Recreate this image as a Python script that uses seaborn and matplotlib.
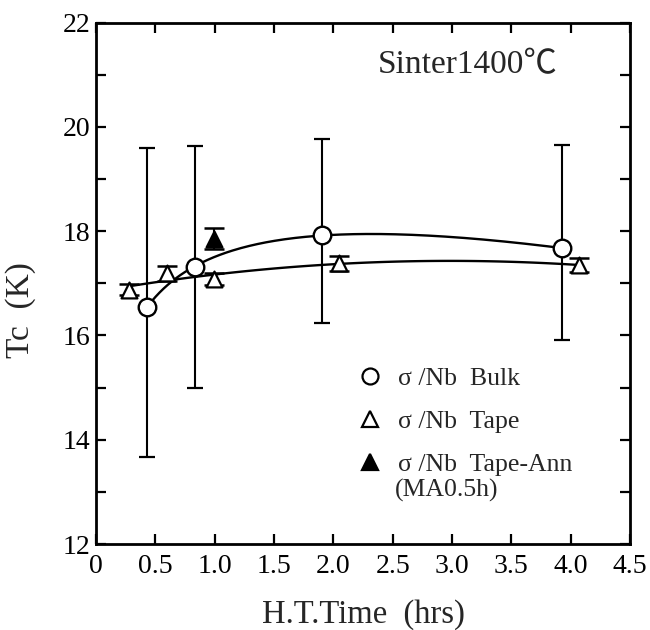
import numpy as np
import pandas as pd
import matplotlib
matplotlib.use("Agg")
import matplotlib.pyplot as plt
import seaborn as sns
from matplotlib.lines import Line2D
from matplotlib.ticker import MultipleLocator, FixedLocator

# ---- data ----
bulk_time = [0.43, 0.835, 1.905, 3.93]
bulk_tc = [16.55, 17.31, 17.93, 17.67]
bulk_err_low = [2.89, 2.31, 1.69, 1.76]
bulk_err_high = [3.04, 2.32, 1.83, 1.98]

tape_time = [0.28, 0.60, 0.995, 2.045, 4.07]
tape_tc = [16.88, 17.19, 17.08, 17.38, 17.35]
tape_err = [0.11, 0.14, 0.12, 0.14, 0.13]

ann_time = [0.995]
ann_tc = [17.85]
ann_err = [0.20]

x_ticks = [0, 0.5, 1.0, 1.5, 2.0, 2.5, 3.0, 3.5, 4.0, 4.5]
x_tick_labels = ["0", "0.5", "1.0", "1.5", "2.0", "2.5", "3.0", "3.5", "4.0", "4.5"]
y_ticks = [12, 14, 16, 18, 20, 22]
y_tick_labels = ["12", "14", "16", "18", "20", "22"]

legend_labels = ["σ /Nb  Bulk", "σ /Nb  Tape", "σ /Nb  Tape-Ann"]
legend_note = "(MA0.5h)"
title_text = "Sinter1400℃"
x_label = "H.T.Time  (hrs)"
y_label = "Tc  (K)"

# ---- style ----
sns.set_theme(style="ticks")
plt.rcParams["font.family"] = ["Liberation Serif", "DejaVu Serif"]
plt.rcParams["axes.edgecolor"] = "black"
plt.rcParams["axes.linewidth"] = 2.0

fig = plt.figure(figsize=(6.5, 6.3), dpi=100)
ax = fig.add_axes([96 / 650, 1 - 544 / 630, 534 / 650, 521.5 / 630])
ax.set_facecolor("white")

bulk_df = pd.DataFrame({"time": bulk_time, "tc": bulk_tc})
tape_df = pd.DataFrame({"time": tape_time, "tc": tape_tc})
ann_df = pd.DataFrame({"time": ann_time, "tc": ann_tc})

# fitted trend for bulk: Tc = a + b ln(t) + c t (least squares on the points)
bt = np.array(bulk_time)
A = np.column_stack([np.ones_like(bt), np.log(bt), bt])
coef, *_ = np.linalg.lstsq(A, np.array(bulk_tc), rcond=None)
grid = np.linspace(bt.min(), bt.max(), 200)
fit_df = pd.DataFrame({"time": grid,
                       "tc": coef[0] + coef[1] * np.log(grid) + coef[2] * grid})
sns.lineplot(data=fit_df, x="time", y="tc", ax=ax, color="black",
             linewidth=1.7, zorder=2)

# quadratic trend for tape
sns.regplot(data=tape_df, x="time", y="tc", order=2, ci=None, scatter=False,
            truncate=True, ax=ax, line_kws=dict(color="black", linewidth=1.7, zorder=2))

# error bars
ax.errorbar(bulk_time, bulk_tc, yerr=[bulk_err_low, bulk_err_high], fmt="none",
            ecolor="black", elinewidth=1.5, capsize=6, capthick=1.6, zorder=3)
ax.errorbar(tape_time, tape_tc, yerr=tape_err, fmt="none",
            ecolor="black", elinewidth=1.5, capsize=7, capthick=1.8, zorder=3)
ax.errorbar(ann_time, ann_tc, yerr=ann_err, fmt="none",
            ecolor="black", elinewidth=1.5, capsize=7, capthick=1.8, zorder=3)

# markers
sns.scatterplot(data=bulk_df, x="time", y="tc", ax=ax, marker="o", s=160,
                facecolor="white", edgecolor="black", linewidth=1.7, zorder=5)
sns.scatterplot(data=tape_df, x="time", y="tc", ax=ax, marker="^", s=130,
                facecolor="white", edgecolor="black", linewidth=1.6, zorder=5)
sns.scatterplot(data=ann_df, x="time", y="tc", ax=ax, marker="^", s=130,
                facecolor="black", edgecolor="black", linewidth=1.6, zorder=5)

# axes
ax.set_xlim(0, 4.5)
ax.set_ylim(12, 22)
ax.xaxis.set_major_locator(FixedLocator(x_ticks))
ax.set_xticklabels(x_tick_labels)
ax.yaxis.set_major_locator(FixedLocator(y_ticks))
ax.set_yticklabels(y_tick_labels)
ax.yaxis.set_minor_locator(MultipleLocator(1))
ax.tick_params(axis="both", which="both", direction="in", top=True, right=True,
               length=7.5, width=1.6, colors="black")
ax.tick_params(axis="x", which="major", labelsize=20, pad=7)
ax.tick_params(axis="y", which="major", labelsize=20, pad=4)
for s in ax.spines.values():
    s.set_visible(True)
    s.set_linewidth(2.0)
    s.set_color("black")

ax.set_xlabel(x_label, fontsize=23.5, labelpad=15)
ax.set_ylabel(y_label, fontsize=24)
ax.yaxis.set_label_coords(-0.112, 0.449)

# legend
handles = [
    Line2D([], [], linestyle="none", marker="o", markersize=11.5,
           markerfacecolor="white", markeredgecolor="black", markeredgewidth=1.6),
    Line2D([], [], linestyle="none", marker="^", markersize=11.5,
           markerfacecolor="white", markeredgecolor="black", markeredgewidth=1.6),
    Line2D([], [], linestyle="none", marker="^", markersize=11.5,
           markerfacecolor="black", markeredgecolor="black", markeredgewidth=1.6),
]
ax.legend(handles, legend_labels, loc="upper left", bbox_to_anchor=(0.489, 0.3395),
          frameon=False, fontsize=18.5, handlelength=1.0, handletextpad=0.59,
          labelspacing=0.78, borderpad=0, borderaxespad=0)
ax.text(0.56, 0.103, legend_note, transform=ax.transAxes, fontsize=18.5,
        ha="left", va="center")

ax.text(0.695, 0.9185, title_text, transform=ax.transAxes, fontsize=24,
        ha="center", va="center", family=["Liberation Serif", "Noto Sans CJK JP"])

fig.savefig("out.png", dpi=100, facecolor="white")
